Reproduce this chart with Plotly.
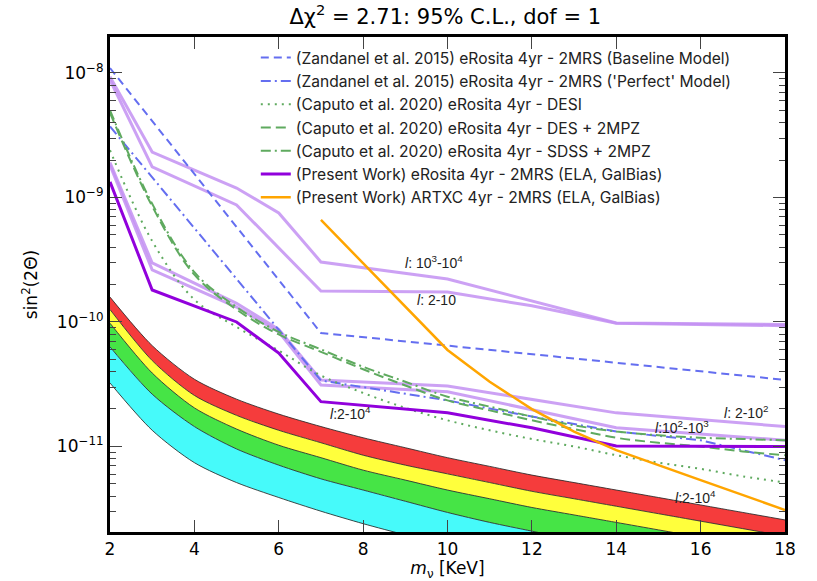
import plotly.graph_objects as go

# ---------------- data (y stored as log10) ----------------
band_x = [2, 3, 4, 5, 6, 7, 8, 9, 10, 11, 12, 13, 14, 15, 16, 17, 18]
band_red_top_log = [-9.80, -10.19, -10.46, -10.62, -10.74, -10.84, -10.93, -11.01, -11.09, -11.16, -11.23, -11.29, -11.35, -11.41, -11.47, -11.53, -11.59]
band_yellow_top_log = [-9.90, -10.31, -10.59, -10.75, -10.87, -10.97, -11.07, -11.15, -11.22, -11.29, -11.36, -11.42, -11.48, -11.54, -11.60, -11.66, -11.72]
band_green_top_log = [-10.01, -10.41, -10.69, -10.86, -10.99, -11.09, -11.19, -11.27, -11.35, -11.42, -11.49, -11.55, -11.61, -11.67, -11.73, -11.79, -11.85]
band_cyan_top_log = [-10.20, -10.58, -10.84, -11.02, -11.15, -11.26, -11.35, -11.44, -11.53, -11.61, -11.68, -11.75, -11.81, -11.87, -11.93, -11.99, -12.05]
band_cyan_bottom_log = [-10.49, -10.87, -11.13, -11.29, -11.41, -11.52, -11.62, -11.71, -11.79, -11.86, -11.93, -11.99, -12.05, -12.11, -12.17, -12.23, -12.29]

zand_base_x = [2, 7, 10, 14, 18]
zand_base_log = [-7.96, -10.088, -10.19, -10.33, -10.465]
zand_perf_x = [2, 7, 10, 12, 14, 16, 18]
zand_perf_log = [-8.43, -10.47, -10.63, -10.76, -10.88, -10.95, -11.11]

cap_x = [2, 3, 4, 5, 6, 7, 8, 9, 10, 11, 12, 13, 14, 15, 16, 17, 18]
cap_desi_log = [-8.62, -9.35, -9.82, -10.04, -10.23, -10.43, -10.57, -10.69, -10.79, -10.87, -10.94, -11.00, -11.07, -11.13, -11.18, -11.24, -11.29]
cap_des_log = [-8.32, -9.07, -9.62, -9.90, -10.10, -10.24, -10.38, -10.51, -10.63, -10.71, -10.79, -10.86, -10.93, -10.97, -11.00, -11.04, -11.07]
cap_sdss_log = [-8.30, -9.05, -9.60, -9.88, -10.08, -10.22, -10.36, -10.48, -10.60, -10.68, -10.76, -10.83, -10.88, -10.91, -10.93, -10.94, -10.95]

pw_x = [2, 3, 5, 6, 7, 10, 12, 14, 18]
pw_log = [-8.875, -9.743, -10.00, -10.25, -10.64, -10.73, -10.85, -10.996, -11.00]

lv1_x = [2, 3, 5, 6, 7, 10, 14, 18]          # l: 10^3-10^4
lv1_log = [-8.03, -8.635, -8.924, -9.124, -9.518, -9.655, -10.008, -10.02]
lv2_x = [2, 3, 5, 7, 10, 12, 14, 18]          # l: 2-10
lv2_log = [-8.056, -8.755, -9.06, -9.751, -9.76, -9.87, -10.01, -10.03]
lv3_x = [2, 3, 5, 6, 7, 10, 14, 18]           # l: 2-10^2
lv3_log = [-8.72, -9.526, -9.85, -10.06, -10.466, -10.514, -10.73, -10.84]
lv4_x = [2, 3, 5, 6, 7, 10, 14, 18]           # l: 10^2-10^3
lv4_log = [-8.74, -9.582, -9.88, -10.08, -10.506, -10.56, -10.85, -10.95]

artxc_x = [7, 10, 11, 12, 13, 14, 16, 18]
artxc_log = [-9.18, -10.225, -10.48, -10.70, -10.88, -11.03, -11.27, -11.51]

x_ticks = [2, 4, 6, 8, 10, 12, 14, 16, 18]
y_tick_exp = [-11, -10, -9, -8]

legend_names = [
    "(Zandanel et al. 2015) eRosita 4yr - 2MRS (Baseline Model)",
    "(Zandanel et al. 2015) eRosita 4yr - 2MRS ('Perfect' Model)",
    "(Caputo et al. 2020) eRosita 4yr - DESI",
    "(Caputo et al. 2020) eRosita 4yr - DES + 2MPZ",
    "(Caputo et al. 2020) eRosita 4yr - SDSS + 2MPZ",
    "(Present Work) eRosita 4yr - 2MRS (ELA, GalBias)",
    "(Present Work) ARTXC 4yr - 2MRS (ELA, GalBias)",
]

# annotation labels: (x, log10 y, text)
labels = [
    (9.69, -9.518, "<i>l</i>: 10<sup>3</sup>-10<sup>4</sup>"),
    (9.73, -9.823, "<i>l</i>: 2-10"),
    (7.69, -10.73, "<i>l</i>:2-10<sup>4</sup>"),
    (15.55, -10.843, "<i>l</i>:10<sup>2</sup>-10<sup>3</sup>"),
    (17.07, -10.723, "<i>l</i>: 2-10<sup>2</sup>"),
    (15.88, -11.406, "<i>l</i>:2-10<sup>4</sup>"),
]


def lin(v):
    return [10 ** e for e in v]


BLUE = "rgb(100,110,240)"
GREEN = "rgb(95,170,95)"
LVIOLET = "rgba(195,145,242,0.85)"
DVIOLET = "rgb(145,0,220)"
ORANGE = "rgb(255,165,0)"

fig = go.Figure()

# ---------------- bands ----------------
band_edge = dict(color="rgba(40,40,40,0.85)", width=1, shape="spline", smoothing=0.8)
fig.add_trace(go.Scatter(x=band_x, y=lin(band_red_top_log), mode="lines", line=band_edge,
                         showlegend=False, hoverinfo="skip"))
for vals, col in [(band_yellow_top_log, "rgb(245,60,60)"),
                  (band_green_top_log, "rgb(255,255,60)"),
                  (band_cyan_top_log, "rgb(70,228,70)"),
                  (band_cyan_bottom_log, "rgb(70,250,250)")]:
    fig.add_trace(go.Scatter(x=band_x, y=lin(vals), mode="lines", line=band_edge,
                             fill="tonexty", fillcolor=col, showlegend=False, hoverinfo="skip"))

# ---------------- light violet (present work, sub-ranges) ----------------
for xs, ys in [(lv1_x, lv1_log), (lv2_x, lv2_log), (lv3_x, lv3_log), (lv4_x, lv4_log)]:
    fig.add_trace(go.Scatter(x=xs, y=lin(ys), mode="lines", line=dict(color=LVIOLET, width=3),
                             showlegend=False, hoverinfo="skip"))

# ---------------- legend lines ----------------
fig.add_trace(go.Scatter(x=zand_base_x, y=lin(zand_base_log), mode="lines", name=legend_names[0],
                         line=dict(color=BLUE, width=2, dash="8px,5px")))
fig.add_trace(go.Scatter(x=zand_perf_x, y=lin(zand_perf_log), mode="lines", name=legend_names[1],
                         line=dict(color=BLUE, width=2, dash="10px,4px,2px,4px")))
fig.add_trace(go.Scatter(x=cap_x, y=lin(cap_desi_log), mode="lines", name=legend_names[2],
                         line=dict(color=GREEN, width=2, dash="2px,5px", shape="spline")))
fig.add_trace(go.Scatter(x=cap_x, y=lin(cap_des_log), mode="lines", name=legend_names[3],
                         line=dict(color=GREEN, width=2, dash="10px,5px", shape="spline")))
fig.add_trace(go.Scatter(x=cap_x, y=lin(cap_sdss_log), mode="lines", name=legend_names[4],
                         line=dict(color=GREEN, width=2, dash="10px,4px,2px,4px", shape="spline")))
fig.add_trace(go.Scatter(x=pw_x, y=lin(pw_log), mode="lines", name=legend_names[5],
                         line=dict(color=DVIOLET, width=3)))
fig.add_trace(go.Scatter(x=artxc_x, y=lin(artxc_log), mode="lines", name=legend_names[6],
                         line=dict(color=ORANGE, width=2.5)))

# ---------------- annotations ----------------
ann_font = dict(family="Liberation Sans, Arial", size=14, color="#222")
for lx, ly, txt in labels:
    fig.add_annotation(x=lx, y=ly, xref="x", yref="y", text=txt, showarrow=False,
                       font=ann_font, xanchor="center", yanchor="middle")

minor_vals = [m * 10.0 ** k for k in range(-12, -7) for m in range(2, 10)]

fig.update_layout(
    width=817, height=581,
    margin=dict(l=110, r=32, t=37, b=49),
    paper_bgcolor="white", plot_bgcolor="white",
    font=dict(family="DejaVu Sans", color="black"),
    title=dict(text="Δχ<sup>2</sup> = 2.71: 95% C.L., dof = 1", x=0.545, xanchor="center",
               y=0.972, yanchor="middle", font=dict(size=21, family="DejaVu Sans")),
    showlegend=True,
    legend=dict(x=0.216, y=0.992, xanchor="left", yanchor="top", bgcolor="rgba(0,0,0,0)",
                font=dict(family="Inter, Liberation Sans, Arial", size=15.6, color="#222"),
                tracegroupgap=0, itemwidth=30, traceorder="normal"),
)
fig.update_xaxes(range=[2, 18], tickvals=x_ticks, ticks="inside", ticklen=12, tickwidth=1.2,
                 showline=True, linewidth=3, linecolor="black", mirror="ticks", showgrid=False,
                 zeroline=False, tickfont=dict(size=17, family="DejaVu Sans"), automargin=False,
                 title=dict(text="<i>m</i><sub>ν</sub> [KeV]", font=dict(size=17, family="DejaVu Sans")))
fig.update_yaxes(type="log", range=[-11.687, -7.711],
                 tickvals=[10.0 ** e for e in y_tick_exp],
                 ticktext=[f"10<sup>−{-e}</sup>" for e in y_tick_exp],
                 ticks="inside", ticklen=12, tickwidth=1.2,
                 minor=dict(tickvals=minor_vals, ticks="inside", ticklen=6, tickwidth=1, showgrid=False),
                 showline=True, linewidth=3, linecolor="black", mirror="ticks", showgrid=False,
                 zeroline=False, tickfont=dict(size=17, family="DejaVu Sans"), automargin=False,
                 title=dict(text="sin<sup>2</sup>(2Θ)", font=dict(size=17, family="DejaVu Sans")))

fig.write_html("out.html")
